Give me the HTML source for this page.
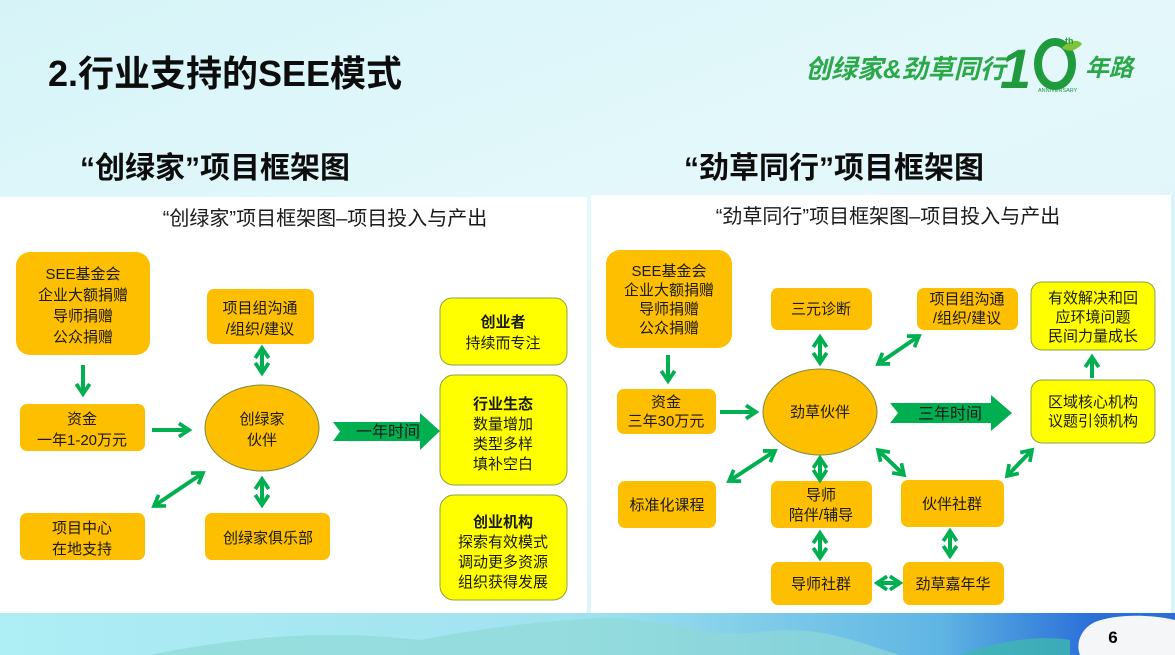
<!DOCTYPE html>
<html><head><meta charset="utf-8"><style>
html,body{margin:0;padding:0;width:1175px;height:655px;overflow:hidden;}
body{background:linear-gradient(160deg,#d6f4f8 0%,#e4f8fb 40%,#d8f3f8 100%);font-family:"Liberation Sans","Noto Sans CJK SC",sans-serif;}
svg text{font-family:"Liberation Sans","Noto Sans CJK SC",sans-serif;}
</style></head><body>
<svg width="1175" height="655" viewBox="0 0 1175 655" xmlns="http://www.w3.org/2000/svg">
<defs>
<linearGradient id="bot" x1="0" x2="1" y1="0" y2="0">
<stop offset="0" stop-color="#aeeef5"/><stop offset="0.5" stop-color="#9fe2ee"/><stop offset="0.8" stop-color="#5fb5e3"/><stop offset="0.93" stop-color="#2a6fd8"/><stop offset="1" stop-color="#2a6fd8"/>
</linearGradient>
<marker id="ah" viewBox="0 0 10 10" refX="7" refY="5" markerWidth="4.2" markerHeight="4.2" orient="auto-start-reverse">
<path d="M1,1 L7,5 L1,9" fill="none" stroke="#00b050" stroke-width="2.2"/>
</marker>
</defs>
<rect x="0" y="613" width="1175" height="42" fill="url(#bot)"/>
<path d="M150,655 C250,635 330,630 420,640 C500,625 560,620 600,618 C650,615 700,640 760,632 C820,625 850,640 900,655Z" fill="#8fd9d6" opacity="0.7"/>
<path d="M960,655 C1000,640 1040,635 1070,640 L1070,655Z" fill="#3fb7b0" opacity="0.8"/>
<path d="M1080,655 C1075,642 1082,628 1095,622 C1115,614 1150,614 1175,620 L1175,655Z" fill="#f4f6f8"/>
<text x="1113" y="643" font-size="17" font-weight="bold" fill="#000" text-anchor="middle">6</text>

<text x="48" y="86" font-size="36" font-weight="bold" fill="#0d0d0d">2.行业支持的SEE模式</text>
<text x="80" y="178" font-size="30" font-weight="bold" fill="#0d0d0d">“创绿家”项目框架图</text>
<text x="684" y="178" font-size="30" font-weight="bold" fill="#0d0d0d">“劲草同行”项目框架图</text>

<text x="805" y="78" font-size="26" font-weight="bold" font-style="italic" fill="#2ca84a">创绿家&amp;劲草同行</text>
<text x="1000" y="88" font-size="56" font-weight="bold" font-style="italic" fill="#1f9a3c">1</text>
<ellipse cx="1055" cy="64" rx="17" ry="22" fill="none" stroke="#1f9a3c" stroke-width="8"/>
<path d="M1062,48 C1070,38 1080,40 1082,44 C1075,52 1068,52 1062,48Z" fill="#7fc33a"/>
<text x="1065" y="44" font-size="9" font-weight="bold" fill="#1f9a3c">th</text>
<text x="1038" y="92" font-size="5.5" fill="#1f9a3c">ANNIVERSARY</text>
<text x="1085" y="76" font-size="24" font-weight="bold" font-style="italic" fill="#2ca84a">年路</text>

<rect x="0" y="197" width="587" height="416" fill="#ffffff"/>
<rect x="591" y="195" width="584" height="418" fill="#ffffff"/>
<rect x="1171" y="195" width="4" height="418" fill="#d9f3f8"/>

<g font-size="20" fill="#1a1a1a" text-anchor="middle">
<text x="325" y="225">“创绿家”项目框架图–项目投入与产出</text>
<text x="888" y="223">“劲草同行”项目框架图–项目投入与产出</text>
</g>

<g fill="#fdbf00">
<rect x="16" y="252" width="134" height="103" rx="14"/>
<rect x="20" y="404" width="125" height="47" rx="7"/>
<rect x="207" y="289" width="107" height="55" rx="7"/>
<rect x="20" y="513" width="125" height="47" rx="7"/>
<rect x="205" y="513" width="125" height="47" rx="7"/>
<rect x="606" y="250" width="126" height="98" rx="14"/>
<rect x="617" y="389" width="99" height="45" rx="7"/>
<rect x="771" y="288" width="101" height="42" rx="7"/>
<rect x="917" y="288" width="101" height="42" rx="7"/>
<rect x="618" y="481" width="98" height="47" rx="7"/>
<rect x="771" y="481" width="101" height="47" rx="7"/>
<rect x="901" y="480" width="103" height="47" rx="7"/>
<rect x="771" y="562" width="101" height="43" rx="7"/>
<rect x="903" y="562" width="101" height="43" rx="7"/>
</g>
<ellipse cx="262" cy="428" rx="57" ry="43" fill="#fdbf00" stroke="#7a8a3a" stroke-width="1"/>
<ellipse cx="820" cy="412" rx="57" ry="43" fill="#fdbf00" stroke="#7a8a3a" stroke-width="1"/>

<g fill="#ffff00" stroke="#8aa34a" stroke-width="1">
<rect x="440" y="298" width="127" height="67" rx="12"/>
<rect x="440" y="375" width="127" height="110" rx="14"/>
<rect x="440" y="495" width="127" height="105" rx="14"/>
<rect x="1031" y="282" width="124" height="68" rx="11"/>
<rect x="1031" y="380" width="124" height="63" rx="11"/>
</g>

<path d="M333,422 L420,422 L420,413 L440,431 L420,450 L420,441 L333,441 L340,431.5Z" fill="#00b050"/>
<path d="M890,403 L991,403 L991,395 L1012,413 L991,431 L991,423 L890,423 L898,413Z" fill="#00b050"/>

<g stroke="#00b050" stroke-width="4" fill="none">
<line x1="83" y1="365" x2="83" y2="394" marker-end="url(#ah)"/>
<line x1="152" y1="430" x2="189" y2="430" marker-end="url(#ah)"/>
<line x1="262" y1="348" x2="262" y2="373" marker-start="url(#ah)" marker-end="url(#ah)"/>
<line x1="262" y1="479" x2="262" y2="505" marker-start="url(#ah)" marker-end="url(#ah)"/>
<line x1="154" y1="506" x2="203" y2="473" marker-start="url(#ah)" marker-end="url(#ah)"/>

<line x1="668" y1="355" x2="668" y2="381" marker-end="url(#ah)"/>
<line x1="720" y1="412" x2="756" y2="412" marker-end="url(#ah)"/>
<line x1="820" y1="337" x2="820" y2="363" marker-start="url(#ah)" marker-end="url(#ah)"/>
<line x1="878" y1="364" x2="919" y2="336" marker-start="url(#ah)" marker-end="url(#ah)"/>
<line x1="1092" y1="378" x2="1092" y2="357" marker-end="url(#ah)"/>
<line x1="729" y1="481" x2="775" y2="451" marker-start="url(#ah)" marker-end="url(#ah)"/>
<line x1="820" y1="458" x2="820" y2="480" marker-start="url(#ah)" marker-end="url(#ah)"/>
<line x1="878" y1="450" x2="904" y2="475" marker-start="url(#ah)" marker-end="url(#ah)"/>
<line x1="1007" y1="476" x2="1032" y2="450" marker-start="url(#ah)" marker-end="url(#ah)"/>
<line x1="820" y1="533" x2="820" y2="558" marker-start="url(#ah)" marker-end="url(#ah)"/>
<line x1="950" y1="531" x2="950" y2="556" marker-start="url(#ah)" marker-end="url(#ah)"/>
<line x1="877" y1="583" x2="900" y2="583" marker-start="url(#ah)" marker-end="url(#ah)"/>
</g>

<g font-size="15" fill="#1a1a1a" text-anchor="middle">
<text x="83" y="279">SEE基金会</text><text x="83" y="300">企业大额捐赠</text><text x="83" y="321">导师捐赠</text><text x="83" y="342">公众捐赠</text>
<text x="82" y="424">资金</text><text x="82" y="445">一年1-20万元</text>
<text x="260" y="313">项目组沟通</text><text x="260" y="334">/组织/建议</text>
<text x="262" y="424">创绿家</text><text x="262" y="445">伙伴</text>
<text x="82" y="533">项目中心</text><text x="82" y="554">在地支持</text>
<text x="268" y="543">创绿家俱乐部</text>
<text x="388" y="437" font-size="16">一年时间</text>
<text x="503" y="327" font-weight="bold">创业者</text><text x="503" y="348">持续而专注</text>
<text x="503" y="409" font-weight="bold">行业生态</text><text x="503" y="429">数量增加</text><text x="503" y="449">类型多样</text><text x="503" y="469">填补空白</text>
<text x="503" y="527" font-weight="bold">创业机构</text><text x="503" y="547">探索有效模式</text><text x="503" y="567">调动更多资源</text><text x="503" y="587">组织获得发展</text>

<text x="669" y="276">SEE基金会</text><text x="669" y="295">企业大额捐赠</text><text x="669" y="314">导师捐赠</text><text x="669" y="333">公众捐赠</text>
<text x="666" y="407">资金</text><text x="666" y="426">三年30万元</text>
<text x="821" y="314">三元诊断</text>
<text x="967" y="304">项目组沟通</text><text x="967" y="323">/组织/建议</text>
<text x="820" y="417">劲草伙伴</text>
<text x="950" y="419" font-size="16">三年时间</text>
<text x="1093" y="303">有效解决和回</text><text x="1093" y="322">应环境问题</text><text x="1093" y="341">民间力量成长</text>
<text x="1093" y="407">区域核心机构</text><text x="1093" y="426">议题引领机构</text>
<text x="667" y="510">标准化课程</text>
<text x="821" y="500">导师</text><text x="821" y="520">陪伴/辅导</text>
<text x="952" y="509">伙伴社群</text>
<text x="821" y="589">导师社群</text>
<text x="953" y="589">劲草嘉年华</text>
</g>
</svg>
</body></html>
